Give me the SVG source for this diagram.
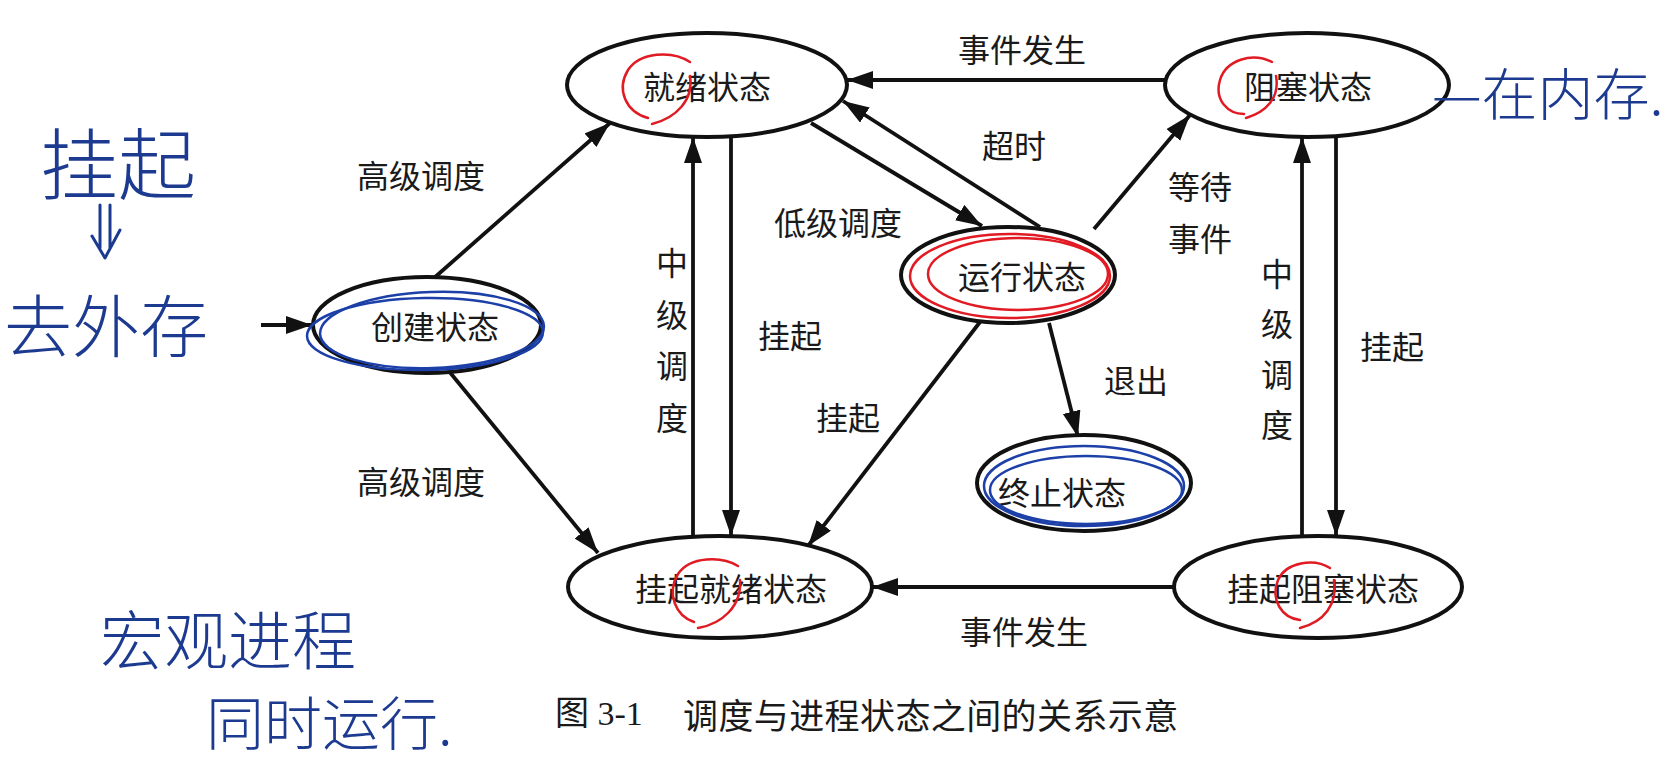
<svg xmlns="http://www.w3.org/2000/svg" width="1673" height="760" viewBox="0 0 1673 760">
<style>
.node{fill:#fff;stroke:#111;stroke-width:4}
.t{font-family:"Noto Sans CJK SC","Liberation Serif",sans-serif;font-size:32px;fill:#1a1a1a;text-anchor:middle;dominant-baseline:central}
.e{fill:none;stroke:#111;stroke-width:3.8}
.red{fill:none;stroke:#e01b24;stroke-width:2.5;stroke-linecap:round}
.blue{fill:none;stroke:#1c3fa8;stroke-width:2.5}
.hw{font-family:"Noto Sans CJK SC",sans-serif;fill:#1c3a8f;font-weight:300;dominant-baseline:central}
.hwl{fill:none;stroke:#1c3a8f;stroke-width:3;stroke-linecap:round;stroke-linejoin:round}
</style>
<defs>
<marker id="ah" markerUnits="userSpaceOnUse" markerWidth="28" markerHeight="20" refX="26" refY="9" orient="auto">
<path d="M0,0 L26,9 L0,18 z" fill="#111"/>
</marker>
</defs>
<rect width="1673" height="760" fill="#fff"/>

<g id="connectors">
<line class="e" x1="261" y1="325" x2="312" y2="325" marker-end="url(#ah)"/>
<line class="e" x1="434" y1="278" x2="610" y2="123" marker-end="url(#ah)"/>
<line class="e" x1="448" y1="370" x2="598" y2="553" marker-end="url(#ah)"/>
<line class="e" x1="693" y1="536" x2="693" y2="137" marker-end="url(#ah)"/>
<line class="e" x1="731" y1="135" x2="731" y2="536" marker-end="url(#ah)"/>
<line class="e" x1="811" y1="123" x2="982" y2="226" marker-end="url(#ah)"/>
<line class="e" x1="1040" y1="227" x2="843" y2="101" marker-end="url(#ah)"/>
<line class="e" x1="1165" y1="80" x2="847" y2="80" marker-end="url(#ah)"/>
<line class="e" x1="1094" y1="229" x2="1190" y2="115" marker-end="url(#ah)"/>
<line class="e" x1="980" y1="322" x2="808" y2="546" marker-end="url(#ah)"/>
<line class="e" x1="1049" y1="323" x2="1078" y2="437" marker-end="url(#ah)"/>
<line class="e" x1="1174" y1="587" x2="872" y2="587" marker-end="url(#ah)"/>
<line class="e" x1="1302" y1="536" x2="1302" y2="137" marker-end="url(#ah)"/>
<line class="e" x1="1336" y1="137" x2="1336" y2="536" marker-end="url(#ah)"/>
</g>

<g id="labels">
<text class="t" x="421" y="174">高级调度</text>
<text class="t" x="421" y="480">高级调度</text>
<text class="t" x="672" y="261">中</text>
<text class="t" x="672" y="313">级</text>
<text class="t" x="672" y="364">调</text>
<text class="t" x="672" y="416">度</text>
<text class="t" x="790" y="334">挂起</text>
<text class="t" x="838" y="221">低级调度</text>
<text class="t" x="1014" y="144">超时</text>
<text class="t" x="1022" y="48">事件发生</text>
<text class="t" x="1200" y="185">等待</text>
<text class="t" x="1200" y="237">事件</text>
<text class="t" x="848" y="416">挂起</text>
<text class="t" x="1136" y="379">退出</text>
<text class="t" x="1024" y="630">事件发生</text>
<text class="t" x="1277" y="272">中</text>
<text class="t" x="1277" y="322">级</text>
<text class="t" x="1277" y="373">调</text>
<text class="t" x="1277" y="423">度</text>
<text class="t" x="1392" y="345">挂起</text>
</g>

<g id="n-ready">
<ellipse class="node" cx="707" cy="85" rx="140" ry="52"/>
<text class="t" x="707" y="85">就绪状态</text>
<path class="red" d="M690,62 C672,50 640,52 628,70 C616,90 626,112 648,118 M652,124 C676,118 694,100 690,76"/>
</g>
<g id="n-blocked">
<ellipse class="node" cx="1307" cy="85" rx="142" ry="52"/>
<text class="t" x="1308" y="85">阻塞状态</text>
<path class="red" d="M1272,62 C1252,52 1226,60 1220,80 C1214,100 1228,114 1244,114 M1246,118 C1266,112 1280,98 1276,76"/>
</g>
<g id="n-create">
<ellipse class="node" cx="427" cy="325" rx="114" ry="48"/>
<text class="t" x="435" y="325">创建状态</text>
<ellipse class="blue" cx="432" cy="330" rx="112" ry="38" transform="rotate(-2 432 330)"/>
<ellipse class="blue" cx="425" cy="334" rx="118" ry="36" transform="rotate(-1 425 334)" stroke-width="1.5"/>
</g>
<g id="n-running">
<ellipse class="node" cx="1008" cy="275" rx="107" ry="48"/>
<text class="t" x="1022" y="275">运行状态</text>
<ellipse class="red" cx="1010" cy="276" rx="100" ry="42"/>
<ellipse class="red" cx="1018" cy="274" rx="90" ry="36"/>
</g>
<g id="n-exit">
<ellipse class="node" cx="1084" cy="483" rx="107" ry="48"/>
<text class="t" x="1062" y="491">终止状态</text>
<ellipse class="blue" cx="1084" cy="486" rx="100" ry="40"/>
<ellipse class="blue" cx="1086" cy="490" rx="96" ry="34"/>
</g>
<g id="n-susready">
<ellipse class="node" cx="720" cy="587" rx="152" ry="51"/>
<text class="t" x="731" y="587">挂起就绪状态</text>
<path class="red" d="M738,566 C722,556 690,556 678,574 C666,594 676,616 694,622 M698,628 C722,624 742,606 740,580"/>
</g>
<g id="n-susblocked">
<ellipse class="node" cx="1318" cy="587" rx="144" ry="51"/>
<text class="t" x="1323" y="587">挂起阻塞状态</text>
<path class="red" d="M1330,568 C1314,558 1286,562 1278,580 C1270,600 1282,618 1300,620 M1300,628 C1324,622 1338,604 1334,580"/>
</g>

<g id="handwriting">
<text class="hw" x="40" y="160" font-size="78">挂起</text>
<path class="hwl" d="M100,205 L100,248 M110,205 L110,248 M92,236 L105,258 L120,230"/>
<text class="hw" x="4" y="322" font-size="68">去外存</text>
<text class="hw" x="1432" y="90" font-size="56">—在内存.</text>
<text class="hw" x="100" y="636" font-size="64">宏观进程</text>
<text class="hw" x="206" y="720" font-size="58">同时运行.</text>
</g>

<g id="caption">
<text x="555" y="713" font-family="Liberation Serif,Noto Sans CJK SC,serif" font-size="34" fill="#1a1a1a" dominant-baseline="central">图 3-1</text>
<text x="683" y="713" font-family="Noto Sans CJK SC,sans-serif" font-size="35" letter-spacing="0.4" fill="#1a1a1a" dominant-baseline="central">调度与进程状态之间的关系示意</text>
</g>
</svg>
